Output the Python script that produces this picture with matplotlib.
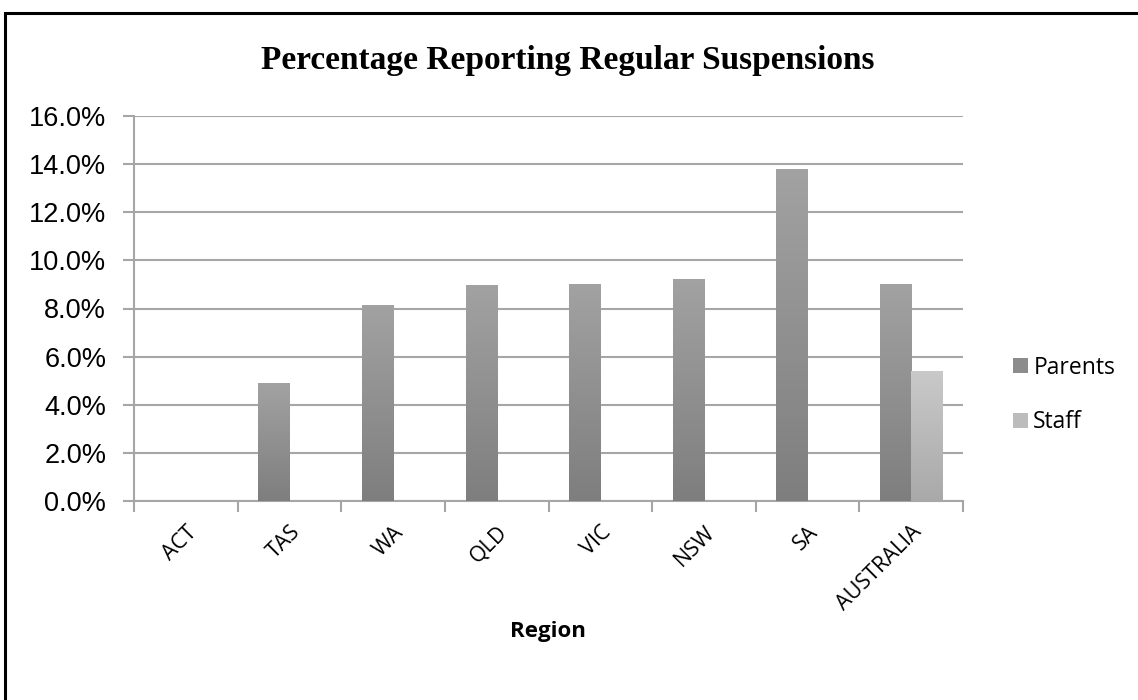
import matplotlib
matplotlib.use("Agg")
import matplotlib.pyplot as plt
import numpy as np
from matplotlib.patches import Rectangle, Patch
from matplotlib.colors import LinearSegmentedColormap

regions = ["ACT", "TAS", "WA", "QLD", "VIC", "NSW", "SA", "AUSTRALIA"]
parents = [0.0, 4.9, 8.15, 8.98, 9.02, 9.23, 13.78, 9.0]
staff = [0.0, 0.0, 0.0, 0.0, 0.0, 0.0, 0.0, 5.4]
yticks = [0, 2, 4, 6, 8, 10, 12, 14, 16]

fig = plt.figure(figsize=(11.38, 7.0), dpi=100)
fig.patch.set_facecolor("white")
# outer border
fig.add_artist(Rectangle((5/1138, -0.1), 1.2, 1.1 - 13/700, transform=fig.transFigure,
                         fill=False, edgecolor="black", linewidth=2.2))

ax = fig.add_axes([134/1138, 1 - 501/700, (963-134)/1138, (501-116)/700])
x = np.arange(len(regions))
w = 0.3
b1 = ax.bar(x - w/2, parents, width=w, color="#8c8c8c", zorder=3)
b2 = ax.bar(x + w/2, staff, width=w, color="#bcbcbc", zorder=3)

cm_p = LinearSegmentedColormap.from_list("p", ["#7e7e7e", "#a2a2a2"])
cm_s = LinearSegmentedColormap.from_list("s", ["#a9a9a9", "#c9c9c9"])
grad = np.linspace(0, 1, 256).reshape(-1, 1)
for bars, cm in ((b1, cm_p), (b2, cm_s)):
    for r in bars:
        h = r.get_height()
        if h <= 0:
            continue
        r.set_facecolor("none")
        im = ax.imshow(grad, cmap=cm, origin="lower", aspect="auto",
                       extent=[r.get_x(), r.get_x() + r.get_width(), 0, h], zorder=3)
        im.set_clip_path(r)

ax.set_xlim(-0.5, len(regions) - 0.5)
ax.set_ylim(0, 16)
ax.set_yticks(yticks)
ax.set_yticklabels([f"{v:.1f}%" for v in yticks], fontsize=19.5, family="Liberation Sans")
ax.yaxis.grid(True, color="#a6a6a6", linewidth=1.5, zorder=0)
ax.tick_params(axis="y", length=8, width=1.5, color="#a6a6a6", pad=12)

ax.set_xticks(x)
ax.set_xticklabels(regions, rotation=45, ha="right", rotation_mode="anchor",
                   fontsize=15.5, family="Open Sans")
ax.tick_params(axis="x", length=0, pad=15)
ax.set_xticks(np.arange(len(regions) + 1) - 0.5, minor=True)
ax.tick_params(axis="x", which="minor", length=8, width=1.5, color="#a6a6a6")

for s in ["top", "right"]:
    ax.spines[s].set_visible(False)
for s in ["left", "bottom"]:
    ax.spines[s].set_color("#a6a6a6")
    ax.spines[s].set_linewidth(1.5)
ax.set_axisbelow(True)

fig.text(568/1138, 1 - 61/700, "Percentage Reporting Regular Suspensions",
         ha="center", va="center", fontsize=24, fontweight="bold", family="Liberation Serif")
fig.text(548/1138, 1 - 632/700, "Region", ha="center", va="center",
         fontsize=16, fontweight="bold", family="Open Sans")

handles = [Patch(facecolor="#8c8c8c"), Patch(facecolor="#bcbcbc")]
fig.legend(handles, ["Parents", "Staff"], loc="center left",
           bbox_to_anchor=(992/1138, 1 - 395/700), frameon=False,
           prop={"family": "Open Sans", "size": 16.5},
           handlelength=0.65, handleheight=0.65, handletextpad=0.25, labelspacing=1.35)

fig.savefig("out.png", dpi=100)
